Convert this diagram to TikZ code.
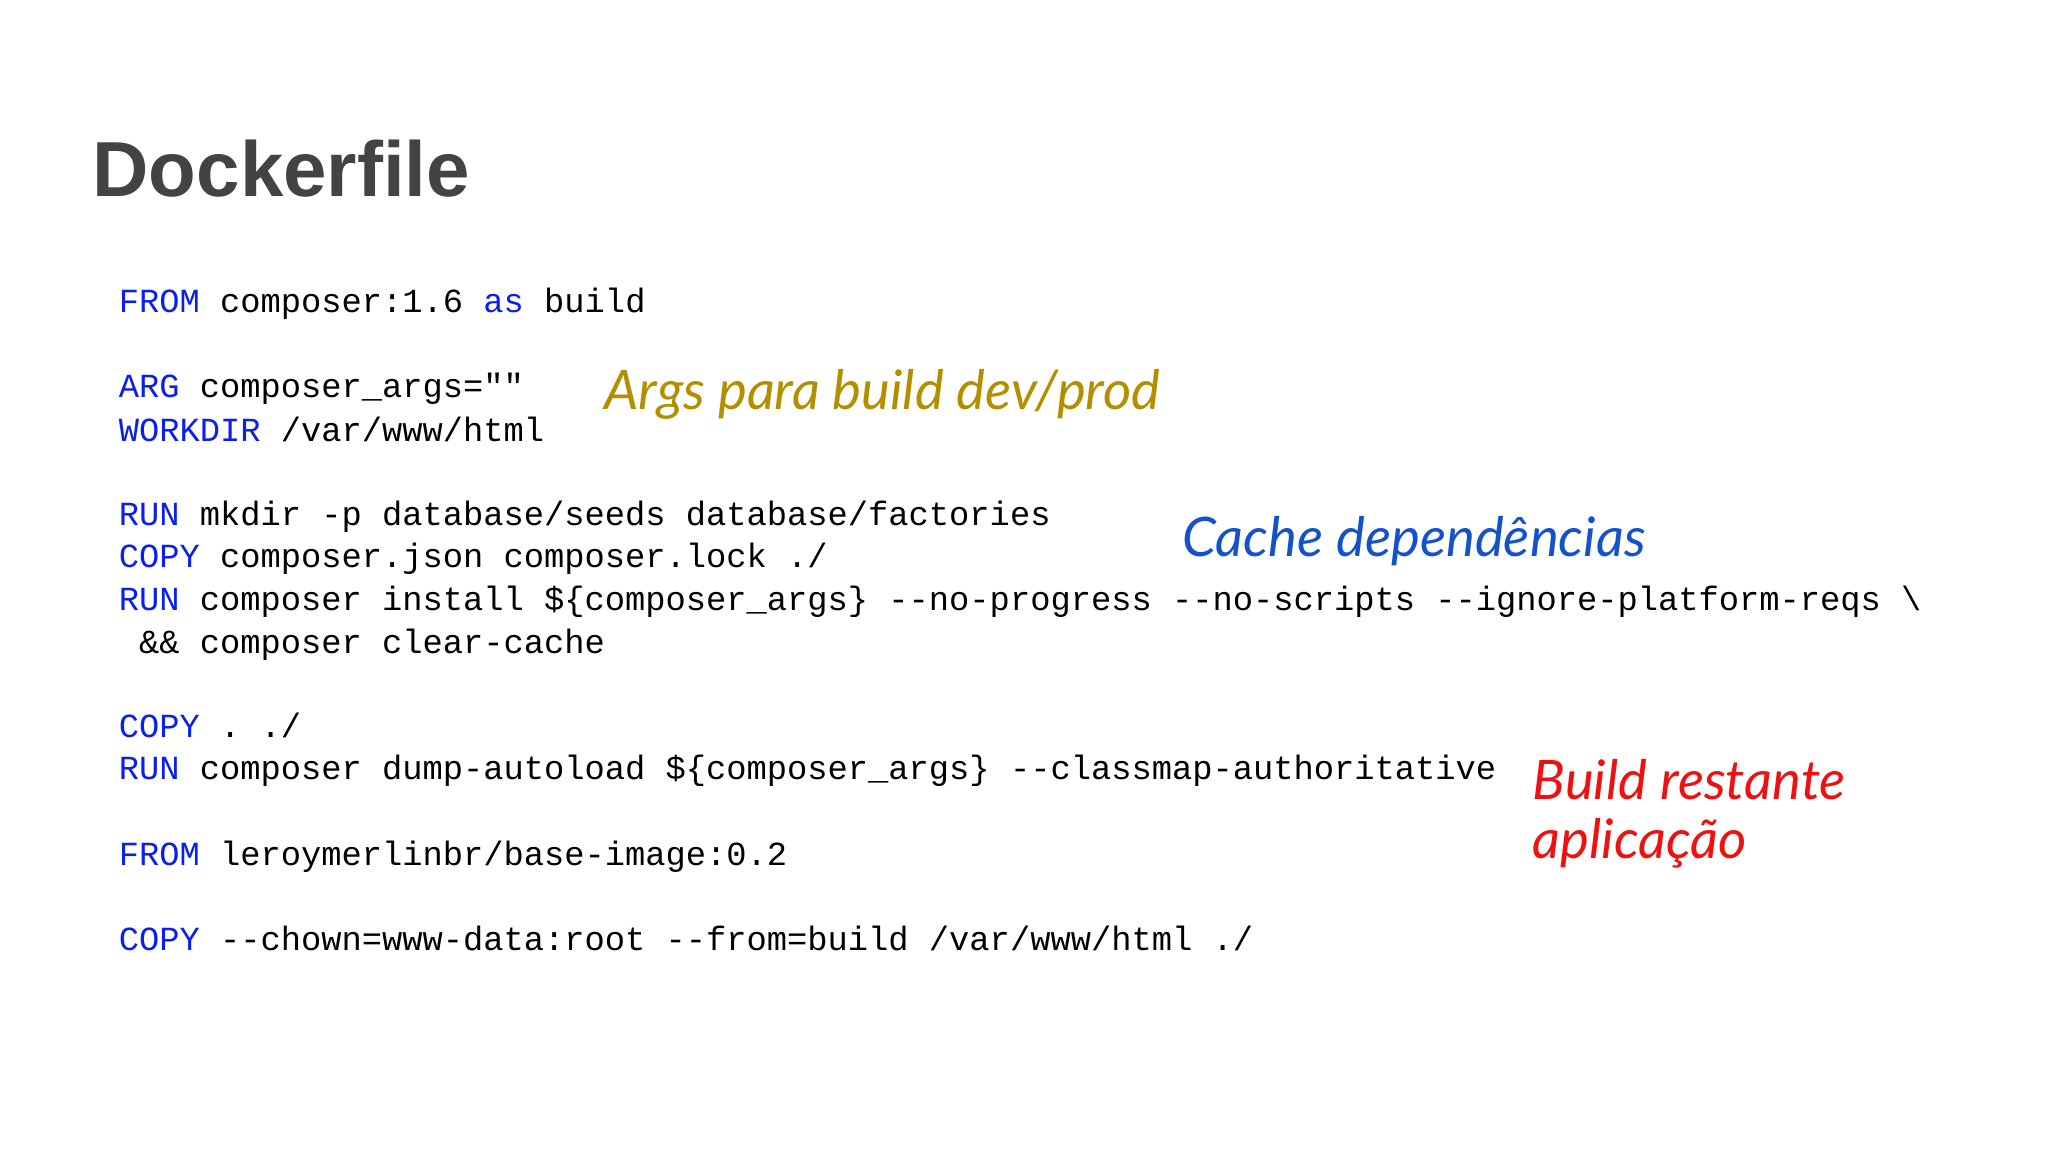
\documentclass[tikz,border=0pt]{standalone}
\usepackage{fontspec}
\setmainfont{Liberation Sans}
\setmonofont{Liberation Mono}
\newfontfamily\handfont{Lato}
\definecolor{kw}{HTML}{0A1EF0}
\definecolor{gold}{HTML}{B38F00}
\definecolor{cblue}{HTML}{1452CC}
\definecolor{cred}{HTML}{EE1111}
\definecolor{ttl}{HTML}{434343}
\begin{document}
\begin{tikzpicture}[x=0.01313cm,y=-0.01313cm,
  code/.style={anchor=base west,inner sep=0pt,font=\ttfamily\fontsize{9.6}{11}\selectfont},
  note/.style={anchor=base west,inner sep=0pt,font=\handfont\itshape\fontsize{15.5}{18}\selectfont}]
\useasboundingbox (0,0) rectangle (1560,878);
\node[anchor=base west,inner sep=0pt,text=ttl,font=\bfseries\fontsize{22.2}{26}\selectfont] (title) at (70,150) {Dockerfile};
\newcommand{\kw}[1]{\textcolor{kw}{#1}}
\node[code] (l1) at (90,238) {\kw{FROM} composer:1.6 \kw{as} build};
\node[code] (l2) at (90,303) {\kw{ARG} composer\_args=""};
\node[code] (l3) at (90,336) {\kw{WORKDIR} /var/www/html};
\node[code] (l4) at (90,400) {\kw{RUN} mkdir -p database/seeds database/factories};
\node[code] (l5) at (90,432) {\kw{COPY} composer.json composer.lock ./};
\node[code] (l6) at (90,465) {\kw{RUN} composer install \$\{composer\_args\} --no-progress --no-scripts --ignore-platform-reqs \textbackslash};
\node[code] (l7) at (90,498) {\ \&\& composer clear-cache};
\node[code] (l8) at (90,562) {\kw{COPY} . ./};
\node[code] (l9) at (90,594) {\kw{RUN} composer dump-autoload \$\{composer\_args\} --classmap-authoritative};
\node[code] (l10) at (90,659) {\kw{FROM} leroymerlinbr/base-image:0.2};
\node[code] (l11) at (90,724) {\kw{COPY} --chown=www-data:root --from=build /var/www/html ./};
\node[note,text=gold] (n1) at (460,312) {Args para build dev/prod};
\node[note,text=cblue] (n2) at (900,424) {Cache dependências};
\node[note,text=cred] (n3) at (1167,609) {Build restante};
\node[note,text=cred] (n4) at (1167,654) {aplicação};
\end{tikzpicture}
\end{document}
